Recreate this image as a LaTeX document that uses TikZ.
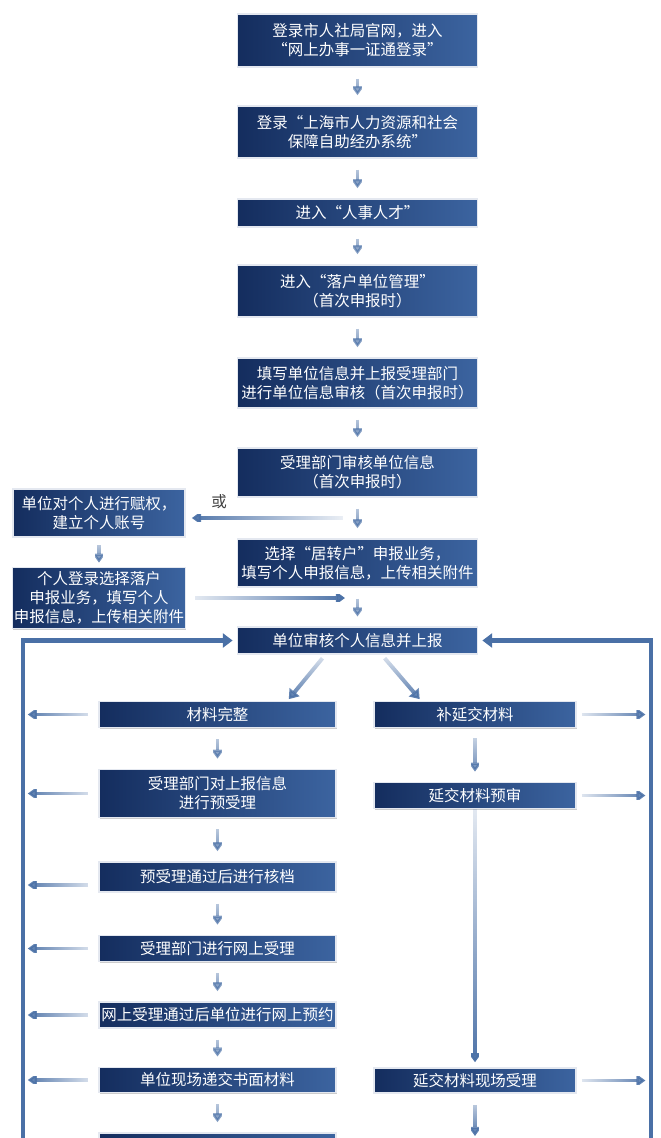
\documentclass[tikz,border=0pt]{standalone}
\usepackage{fontspec}
\setmainfont{Noto Sans CJK SC}
\usetikzlibrary{arrows.meta,shadows,fadings}
\definecolor{navyL}{RGB}{20,45,94}
\definecolor{navyR}{RGB}{60,100,160}
\definecolor{flowblue}{RGB}{74,112,166}
\definecolor{rimgray}{RGB}{228,232,240}
\tikzfading[name=fadeN,top color=transparent!85,middle color=transparent!15,bottom color=transparent!0]
\tikzfading[name=fadeE,right color=transparent!90,middle color=transparent!15,left color=transparent!0]
\tikzfading[name=fadeW,left color=transparent!90,middle color=transparent!15,right color=transparent!0]
\begin{document}
\begin{tikzpicture}[x=0.025cm,y=-0.025cm,
  stepbox/.style={left color=navyL,right color=navyR,draw=rimgray,line width=1.2pt,
    drop shadow={shadow xshift=0.6pt,shadow yshift=-0.9pt,opacity=0.4},
    text=white,font=\fontsize{11pt}{13.5pt}\selectfont,align=center,
    inner xsep=1pt,inner ysep=0pt,minimum width=6cm},
  sidebox/.style={stepbox,minimum width=4.3cm},
  midbox/.style={stepbox,minimum width=5.925cm},
  rbox/.style={stepbox,minimum width=5.05cm},
  arrD/.style={-{Triangle[width=9pt,length=6.5pt]},line width=2.8pt,flowblue,
    path fading=fadeN,shorten <=0.27cm,shorten >=0.25cm},
  arrL/.style={-{Triangle[width=9pt,length=6.5pt]},line width=2.8pt,flowblue,
    path fading=fadeE,shorten <=0.25cm,shorten >=0.12cm},
  arrR/.style={-{Triangle[width=9pt,length=6.5pt]},line width=2.8pt,flowblue,
    path fading=fadeW,shorten <=0.12cm,shorten >=0.14cm},
  arrG/.style={-{Triangle[width=9pt,length=6.5pt]},line width=2.8pt,flowblue,
    path fading=fadeN,shorten <=0.12cm,shorten >=0.05cm},
  loopline/.style={-{Triangle[width=10pt,length=7pt]},line width=3pt,flowblue,shorten >=0.1cm},
  ortext/.style={text=black!75,font=\fontsize{11pt}{13pt}\selectfont}]
\useasboundingbox (0,0) rectangle (660,1138);
\clip (0,0) rectangle (660,1138);

\node[stepbox,minimum height=1.325cm] (b1) at (357.5,40.5) {登录市人社局官网，进入\\“网上办事一证通登录”};
\node[stepbox,minimum height=1.3cm] (b2) at (357.5,132) {登录“上海市人力资源和社会\\保障自助经办系统”};
\node[stepbox,minimum height=0.7cm] (b3) at (357.5,213) {进入“人事人才”};
\node[stepbox,minimum height=1.3cm] (b4) at (357.5,291) {进入“落户单位管理”\\（首次申报时）};
\node[stepbox,minimum height=1.25cm] (b5) at (357.5,383) {填写单位信息并上报受理部门\\进行单位信息审核（首次申报时）};
\node[stepbox,minimum height=1.225cm] (b6) at (357.5,472.5) {受理部门审核单位信息\\（首次申报时）};
\node[stepbox,minimum height=1.2cm] (b7) at (357.5,563) {选择“居转户”申报业务，\\填写个人申报信息，上传相关附件};
\node[stepbox,minimum height=0.66cm] (b8) at (357.5,640.5) {单位审核个人信息并上报};
\node[sidebox,minimum height=1.2cm] (l1) at (99,513) {单位对个人进行赋权，\\建立个人账号};
\node[sidebox,minimum height=1.525cm] (l2) at (99,598) {个人登录选择落户\\申报业务，填写个人\\申报信息，上传相关附件};

\node[midbox,minimum height=0.65cm] (m1) at (217.5,714.5) {材料完整};
\node[midbox,minimum height=1.2cm] (m2) at (217.5,793.5) {受理部门对上报信息\\进行预受理};
\node[midbox,minimum height=0.75cm] (m3) at (217.5,877) {预受理通过后进行核档};
\node[midbox,minimum height=0.65cm] (m4) at (217.5,948.5) {受理部门进行网上受理};
\node[midbox,minimum height=0.65cm] (m5) at (217.5,1015) {网上受理通过后单位进行网上预约};
\node[midbox,minimum height=0.63cm] (m6) at (217.5,1080) {单位现场递交书面材料};
\node[midbox,minimum height=0.85cm] (m7) at (217.5,1150) {};
\node[rbox,minimum height=0.65cm] (r1) at (475,714.5) {补延交材料};
\node[rbox,minimum height=0.65cm] (r2) at (475,795.5) {延交材料预审};
\node[rbox,minimum height=0.63cm] (r3) at (475,1080.5) {延交材料现场受理};

\coordinate (ltop) at (23,640.5);
\coordinate (lbot) at (23,1140);
\coordinate (rtop) at (651,640.5);
\coordinate (rbot) at (651,1140);
\coordinate (orsplit) at (343,518);
\coordinate (join) at (345,598);
\coordinate (r3end) at (475,1136);

\draw[arrD] (b1) -- (b2);
\draw[arrD] (b2) -- (b3);
\draw[arrD] (b3) -- (b4);
\draw[arrD] (b4) -- (b5);
\draw[arrD] (b5) -- (b6);
\draw[arrD] (b6) -- (b7);
\draw[arrD] (b7) -- (b8);
\draw[arrD,shorten <=0.18cm,shorten >=0.1cm] (l1) -- (l2);
\draw[arrL,shorten <=0pt,shorten >=0.15cm] (orsplit) -- (l1.east |- orsplit);
\node[ortext] (or) at (219,502) {或};
\draw[arrR,shorten <=0.22cm,shorten >=0pt] (l2) -- (join);

\draw[loopline] (lbot) -- (ltop) -- (b8.west);
\draw[loopline] (rbot) -- (rtop) -- (b8.east);
\draw[arrG] ([xshift=-0.8cm]b8.south) -- ([xshift=1.75cm]m1.north);
\draw[arrG] ([xshift=0.6cm]b8.south) -- ([xshift=-1.35cm]r1.north);

\draw[arrD] (m1) -- (m2);
\draw[arrD] (m2) -- (m3);
\draw[arrD] (m3) -- (m4);
\draw[arrD] (m4) -- (m5);
\draw[arrD] (m5) -- (m6);
\draw[arrD] (m6) -- (m7);
\draw[arrD,shorten <=0.25cm,shorten >=0.25cm] (r1) -- (r2);
\draw[arrD,shorten <=0pt,shorten >=0.12cm] (r2) -- (r3);
\draw[arrD,shorten >=0pt] (r3) -- (r3end);

\foreach \n in {m1,m2,m4,m5,m6}
  \draw[arrL] (\n.west) -- (\n.west -| ltop);
\draw[arrL] ([yshift=-0.2cm]m3.west) -- ([yshift=-0.2cm]m3.west -| ltop);
\foreach \n in {r1,r2,r3}
  \draw[arrR] (\n.east) -- (\n.east -| rtop);
\end{tikzpicture}
\end{document}
